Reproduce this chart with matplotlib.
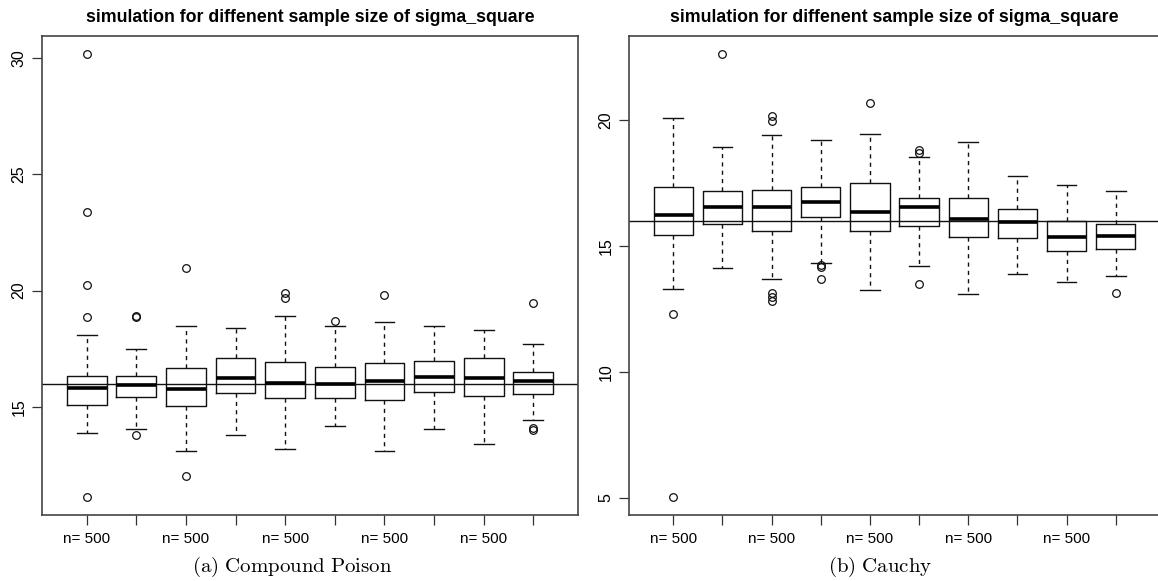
import matplotlib
matplotlib.use("Agg")
import matplotlib.pyplot as plt

# ---- data (10 boxes per panel) ----
labels = ["n= 500", "", "n= 500", "", "n= 500", "", "n= 500", "", "n= 500", ""]
true_value = 16

# (a) Compound Poison
cp_whislo = [13.89, 14.06, 13.08, 13.78, 13.20, 14.16, 13.08, 14.03, 13.41, 14.45]
cp_q1     = [15.07, 15.40, 15.04, 15.59, 15.36, 15.39, 15.29, 15.63, 15.48, 15.56]
cp_med    = [15.79, 15.92, 15.76, 16.22, 16.01, 15.98, 16.12, 16.30, 16.22, 16.10]
cp_q3     = [16.34, 16.31, 16.66, 17.09, 16.93, 16.69, 16.87, 16.96, 17.09, 16.51]
cp_whishi = [18.10, 17.48, 18.49, 18.39, 18.92, 18.49, 18.65, 18.49, 18.29, 17.69]
cp_fliers = [[30.2, 23.37, 20.25, 18.88, 11.1],
             [18.92, 18.86, 13.78],
             [20.96, 12.02],
             [],
             [19.90, 19.68],
             [18.70],
             [19.81],
             [],
             [],
             [19.45, 14.09, 14.02]]

# (b) Cauchy
ca_whislo = [13.29, 14.15, 13.69, 14.34, 13.25, 14.23, 13.10, 13.90, 13.57, 13.82]
ca_q1     = [15.45, 15.88, 15.62, 16.15, 15.61, 15.81, 15.37, 15.31, 14.81, 14.89]
ca_med    = [16.25, 16.54, 16.54, 16.75, 16.37, 16.55, 16.07, 15.98, 15.38, 15.42]
ca_q3     = [17.37, 17.18, 17.25, 17.37, 17.52, 16.92, 16.90, 16.49, 16.01, 15.88]
ca_whishi = [20.09, 18.93, 19.42, 19.22, 19.47, 18.55, 19.15, 17.81, 17.44, 17.19]
ca_fliers = [[12.29, 5.02],
             [22.65],
             [20.17, 19.97, 13.12, 12.97, 12.84],
             [14.27, 14.18, 13.69],
             [20.70],
             [18.81, 18.70, 13.49],
             [],
             [],
             [],
             [13.14]]

plt.rcParams['font.family'] = ['Liberation Sans', 'DejaVu Sans']
plt.rcParams['mathtext.fontset'] = 'cm'


def draw_panel(ax, whislo, q1, med, q3, whishi, fliers, ylim, yticks):
    stats = []
    for i in range(len(med)):
        stats.append(dict(whislo=whislo[i], q1=q1[i], med=med[i], q3=q3[i],
                          whishi=whishi[i], fliers=fliers[i]))
    ax.bxp(stats, positions=range(1, len(med) + 1), widths=0.8, capwidths=0.4,
           boxprops=dict(color='#111111', linewidth=1.0),
           whiskerprops=dict(color='#111111', linewidth=1.0, linestyle=(0, (3, 3))),
           capprops=dict(color='#111111', linewidth=1.0),
           medianprops=dict(color='black', linewidth=2.6, solid_capstyle='butt'),
           flierprops=dict(marker='o', markerfacecolor='none', markeredgecolor='#111111',
                           markersize=5.5, markeredgewidth=0.9))
    ax.axhline(true_value, color='#111111', linewidth=1.0)
    ax.set_xlim(0.1, 10.9)
    ax.set_ylim(*ylim)
    ax.set_xticks(range(1, 11))
    ax.set_xticklabels(labels, fontsize=11)
    ax.set_yticks(yticks)
    ax.set_yticklabels([str(t) for t in yticks], rotation=90, va='center', fontsize=11.5)
    ax.tick_params(length=7, width=0.9, color='#333333')
    ax.tick_params(axis='x', pad=5)
    ax.tick_params(axis='y', pad=4)
    for s in ax.spines.values():
        s.set_linewidth(1.2)
        s.set_color('#444444')
    ax.set_title("simulation for diffenent sample size of sigma_square",
                 fontsize=12.8, fontweight='bold', pad=10)


fig = plt.figure(figsize=(11.58, 5.81), dpi=100)
ax1 = fig.add_axes([42 / 1158, 1 - 515 / 581, 536 / 1158, 479 / 581])
ax2 = fig.add_axes([629 / 1158, 1 - 515 / 581, 531 / 1158, 479 / 581])

draw_panel(ax1, cp_whislo, cp_q1, cp_med, cp_q3, cp_whishi, cp_fliers,
           (10.34, 30.96), [15, 20, 25, 30])
draw_panel(ax2, ca_whislo, ca_q1, ca_med, ca_q3, ca_whishi, ca_fliers,
           (4.31, 23.36), [5, 10, 15, 20])
ax2.spines['right'].set_visible(False)

fig.text(292 / 1158, 1 - 567 / 581, r'$\mathrm{(a)\ Compound\ Poison}$',
         ha='center', va='center', fontsize=15)
fig.text(880 / 1158, 1 - 567 / 581, r'$\mathrm{(b)\ Cauchy}$',
         ha='center', va='center', fontsize=15)

fig.savefig("out.png", dpi=100, facecolor='white')
